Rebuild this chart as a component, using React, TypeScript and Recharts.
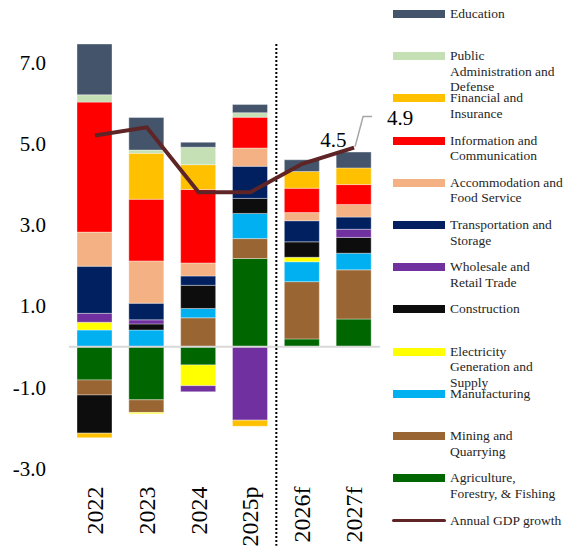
import {
  ComposedChart,
  Bar,
  Line,
  XAxis,
  YAxis,
  ReferenceLine,
  LabelList,
} from 'recharts';

const FONT = '"Liberation Serif", "Times New Roman", serif';

const categories = ['2022', '2023', '2024', '2025p', '2026f', '2027f'];

// contributions to growth, percentage points
const agriculture = [-0.82, -1.31, -0.45, 2.17, 0.19, 0.68];
const mining = [-0.37, -0.31, 0.71, 0.49, 1.41, 1.21];
const manufacturing = [0.41, 0.41, 0.23, 0.62, 0.49, 0.41];
const electricity = [0.19, -0.03, -0.51, 0, 0.11, 0];
const construction = [-0.94, 0.15, 0.57, 0.37, 0.38, 0.39];
const wholesale = [0.22, 0.1, -0.15, -1.81, 0, 0.2];
const transport = [1.16, 0.41, 0.23, 0.79, 0.52, 0.3];
const accommodation = [0.84, 1.04, 0.32, 0.45, 0.2, 0.31];
const information = [3.2, 1.52, 1.81, 0.76, 0.6, 0.49];
const financial = [-0.11, 1.13, 0.61, -0.15, 0.41, 0.41];
const publicAdmin = [0.18, 0.08, 0.43, 0.11, 0, 0];
const education = [1.25, 0.8, 0.12, 0.2, 0.29, 0.39];
const gdpGrowth = [5.2, 5.4, 3.8, 3.8, 4.5, 4.9];

const yTicks = [-3, -1, 1, 3, 5, 7];
const lastActual = '2025p';

// bottom-to-top stacking order
const series = [
  { key: 'agri', name: ['Agriculture,', 'Forestry, & Fishing'], color: '#006600', values: agriculture },
  { key: 'mining', name: ['Mining and', 'Quarrying'], color: '#996633', values: mining },
  { key: 'manu', name: ['Manufacturing'], color: '#00B0F0', values: manufacturing },
  { key: 'elec', name: ['Electricity', 'Generation and', 'Supply'], color: '#FFFF00', values: electricity },
  { key: 'cons', name: ['Construction'], color: '#0D0D0D', values: construction },
  { key: 'whole', name: ['Wholesale and', 'Retail Trade'], color: '#7030A0', values: wholesale },
  { key: 'trans', name: ['Transportation and', 'Storage'], color: '#002060', values: transport },
  { key: 'accom', name: ['Accommodation and', 'Food Service'], color: '#F4B183', values: accommodation },
  { key: 'info', name: ['Information and', 'Communication'], color: '#FF0000', values: information },
  { key: 'fin', name: ['Financial and', 'Insurance'], color: '#FFC000', values: financial },
  { key: 'pub', name: ['Public', 'Administration and', 'Defense'], color: '#C5E0B4', values: publicAdmin },
  { key: 'edu', name: ['Education'], color: '#44546A', values: education },
];

const LINE_COLOR = '#5E2426';

const data = categories.map((year, i) => {
  const row: Record<string, string | number> = { year, gdp: gdpGrowth[i] };
  series.forEach((s) => {
    row[s.key] = s.values[i];
  });
  return row;
});

const XTick = (props: any) => {
  const { x, y, payload } = props;
  return (
    <g transform={`translate(${x + 8}, ${y + 10}) rotate(-90)`}>
      <text x={0} y={0} textAnchor="end" fontFamily={FONT} fontSize={24} fill="#000">
        {payload.value}
      </text>
    </g>
  );
};

const GdpLabel = (props: any) => {
  const { x, y, value, index } = props;
  const style = { fontFamily: FONT, fontSize: 21, fill: '#000' };
  if (index === 4) {
    return (
      <text x={x + 31} y={y - 17} textAnchor="middle" {...style}>
        {Number(value).toFixed(1)}
      </text>
    );
  }
  if (index === 5) {
    return (
      <g>
        <polyline
          points={`${x + 1},${y - 1} ${x + 9},${y - 31} ${x + 18},${y - 31}`}
          fill="none"
          stroke="#A6A6A6"
          strokeWidth={1.5}
        />
        <text x={x + 46} y={y - 23} textAnchor="middle" {...style}>
          {Number(value).toFixed(1)}
        </text>
      </g>
    );
  }
  return null;
};

const legendItems = [...series].reverse();

const ChartLegend = () => (
  <div style={{ position: 'absolute', left: 0, top: 0, fontFamily: FONT, fontSize: 13.5, color: '#262626' }}>
    {legendItems.map((s, i) => {
      const cy = 13.8 + i * 42.24;
      return (
        <div key={s.key}>
          <div
            style={{ position: 'absolute', left: 393, top: cy - 4, width: 52, height: 8, background: s.color }}
          />
          <div style={{ position: 'absolute', left: 450, top: cy - 8, lineHeight: '15.5px', whiteSpace: 'nowrap' }}>
            {s.name.map((l) => (
              <div key={l}>{l}</div>
            ))}
          </div>
        </div>
      );
    })}
    <div
      style={{
        position: 'absolute',
        left: 392,
        top: 13.8 + 12 * 42.24 - 1.5,
        width: 54,
        height: 3,
        borderRadius: 2,
        background: LINE_COLOR,
      }}
    />
    <div style={{ position: 'absolute', left: 450, top: 13.8 + 12 * 42.24 - 8, lineHeight: '15.5px', whiteSpace: 'nowrap' }}>
      Annual GDP growth
    </div>
  </div>
);

export default function App() {
  return (
    <div style={{ position: 'absolute', left: 0, top: 0, width: 567, height: 552, background: '#fff' }}>
      <ComposedChart
        width={567}
        height={552}
        data={data}
        stackOffset="sign"
        margin={{ top: 42, right: 187, bottom: 0, left: 0 }}
      >
        <XAxis
          dataKey="year"
          height={83.5}
          interval={0}
          axisLine={false}
          tickLine={false}
          tick={<XTick />}
        />
        <YAxis
          width={69}
          domain={[-3, 7.5]}
          ticks={yTicks}
          allowDataOverflow
          axisLine={false}
          tickLine={false}
          tickMargin={17}
          tickFormatter={(v: number) => v.toFixed(1)}
          tick={{ fontFamily: FONT, fontSize: 21, fill: '#000' }}
        />
        <ReferenceLine y={0} stroke="#D9D9D9" strokeWidth={2} />
        {series.map((s) => (
          <Bar
            key={s.key}
            dataKey={s.key}
            stackId="a"
            fill={s.color}
            stroke="#ffffff"
            strokeOpacity={0.6}
            strokeWidth={0.6}
            barSize={35}
            isAnimationActive={false}
          />
        ))}
        <ReferenceLine
          segment={[
            { x: lastActual, y: 7.45 },
            { x: lastActual, y: -4.9 },
          ]}
          position="end"
          stroke="#000"
          strokeWidth={2}
          strokeDasharray="2 2"
          ifOverflow="visible"
        />
        <Line
          dataKey="gdp"
          type="linear"
          stroke={LINE_COLOR}
          strokeWidth={4}
          dot={false}
          activeDot={false}
          isAnimationActive={false}
        >
          <LabelList dataKey="gdp" content={<GdpLabel />} />
        </Line>
      </ComposedChart>
      <ChartLegend />
    </div>
  );
}
